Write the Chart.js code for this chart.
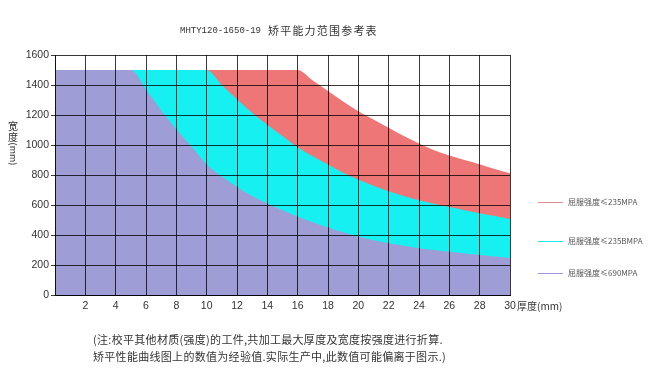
<!DOCTYPE html>
<html>
<head>
<meta charset="utf-8">
<script src="https://cdn.jsdelivr.net/npm/chart.js@4.4.1/dist/chart.umd.min.js"></script>
<style>
html,body{margin:0;padding:0;background:#fff;}
#wrap{width:660px;height:386px;position:relative;}
</style>
</head>
<body>
<div id="wrap"><canvas id="c" width="660" height="386"></canvas></div>
<script>
// ---- data ----
const titleLatin = 'MHTY120-1650-19';
const titleCjk = '矫平能力范围参考表';
const seriesNames = ['屈服强度≤235MPA', '屈服强度≤235BMPA', '屈服强度≤690MPA'];
const xTicks = [0, 2, 4, 6, 8, 10, 12, 14, 16, 18, 20, 22, 24, 26, 28, 30];
const yTicks = [0, 200, 400, 600, 800, 1000, 1200, 1400, 1600];

const redX  = [0, 16, 17, 18, 19, 20, 21, 22, 23, 24, 25, 26, 27, 28, 29, 30];
const redY  = [1500, 1500, 1430, 1360, 1290, 1225, 1170, 1115, 1060, 1010, 965, 930, 900, 872, 840, 812];
const cyanX = [0, 10, 11, 12, 13, 14, 15, 16, 17, 18, 19, 20, 21, 22, 23, 24, 25, 26, 27, 28, 29, 30];
const cyanY = [1500, 1500, 1400, 1305, 1215, 1135, 1060, 985, 925, 870, 815, 770, 728, 692, 660, 632, 608, 586, 565, 545, 526, 507];
const blueX = [0, 5, 6, 7, 8, 9, 10, 11, 12, 13, 14, 15, 16, 17, 18, 19, 20, 21, 22, 23, 24, 25, 26, 27, 28, 29, 30];
const blueY = [1500, 1500, 1370, 1230, 1105, 990, 870, 790, 720, 660, 610, 565, 522, 485, 450, 418, 390, 365, 345, 328, 312, 300, 288, 277, 266, 256, 247];

const noteLines = [
  '(注:校平其他材质(强度)的工件,共加工最大厚度及宽度按强度进行折算.',
  '矫平性能曲线图上的数值为经验值.实际生产中,此数值可能偏离于图示.)'
];

const pts = (xs, ys) => xs.map((x, i) => ({x: x, y: ys[i]}));

const fillColors = ['#ef7676', '#16f0f0', '#9f9dd6'];
const legendColors = ['#e0908f', '#1fe6e6', '#9d94dc'];

const decor = {
  id: 'decor',
  afterDraw(chart) {
    const ctx = chart.ctx;
    const xs = chart.scales.x;
    ctx.save();
    ctx.fillStyle = '#333';
    ctx.textBaseline = 'middle';
    // title
    ctx.textAlign = 'left';
    ctx.font = "9px 'Liberation Mono'";
    ctx.fillText(titleLatin, 180, 31);
    ctx.font = "11px 'Noto Sans CJK SC'";
    ctx.letterSpacing = '1.2px';
    ctx.fillText(titleCjk, 268, 31);
    ctx.letterSpacing = '0px';
    // y title: stacked characters then rotated (mm)
    ctx.textAlign = 'center';
    ctx.font = "10px 'Noto Sans CJK SC'";
    ctx.fillText('宽', 13, 126);
    ctx.fillText('度', 13, 137);
    ctx.save();
    ctx.translate(13, 154);
    ctx.rotate(Math.PI / 2);
    ctx.font = "9px 'Noto Sans CJK SC'";
    ctx.fillText('(mm)', 0, 0);
    ctx.restore();
    // x title
    ctx.textAlign = 'left';
    ctx.font = "10px 'Noto Sans CJK SC'";
    ctx.fillText('厚度(mm)', xs.right + 7, 306);
    // legend
    const ly = [202, 241, 273];
    ctx.font = "8px 'Noto Sans CJK SC'";
    seriesNames.forEach((n, i) => {
      ctx.strokeStyle = legendColors[i];
      ctx.lineWidth = 1;
      ctx.beginPath();
      ctx.moveTo(538, ly[i] + 0.5);
      ctx.lineTo(563, ly[i] + 0.5);
      ctx.stroke();
      ctx.fillStyle = '#555';
      ctx.fillText(n, 568, ly[i]);
    });
    // notes
    ctx.fillStyle = '#333';
    ctx.font = "11px 'Noto Sans CJK SC'";
    ctx.letterSpacing = '0.3px';
    ctx.fillText(noteLines[0], 93, 340);
    ctx.fillText(noteLines[1], 93, 357);
    ctx.restore();
  }
};

new Chart(document.getElementById('c'), {
  type: 'line',
  data: {
    datasets: [
      {label: seriesNames[2], data: pts(blueX, blueY), backgroundColor: fillColors[2], borderColor: fillColors[2], borderWidth: 0, fill: 'origin', pointRadius: 0, cubicInterpolationMode: 'monotone'},
      {label: seriesNames[1], data: pts(cyanX, cyanY), backgroundColor: fillColors[1], borderColor: fillColors[1], borderWidth: 0, fill: 'origin', pointRadius: 0, cubicInterpolationMode: 'monotone'},
      {label: seriesNames[0], data: pts(redX, redY), backgroundColor: fillColors[0], borderColor: fillColors[0], borderWidth: 0, fill: 'origin', pointRadius: 0, cubicInterpolationMode: 'monotone'}
    ]
  },
  options: {
    responsive: false,
    animation: false,
    devicePixelRatio: 1,
    layout: {padding: {left: 0, top: 55, right: 150, bottom: 71}},
    plugins: {legend: {display: false}, tooltip: {enabled: false}},
    scales: {
      x: {
        type: 'linear', min: 0, max: 30,
        afterBuildTicks: s => { s.ticks = xTicks.map(v => ({value: v})); },
        afterFit: s => { s.height = 20; },
        ticks: {callback: v => v === 0 ? '' : String(v), color: '#333', font: {family: "'Liberation Sans', Arial", size: 10.5}, padding: 5, maxRotation: 0, autoSkip: false},
        grid: {color: 'rgba(0,0,0,0.78)', lineWidth: 1, drawTicks: false, z: 1},
        border: {color: '#111', width: 1, z: 1}
      },
      y: {
        type: 'linear', min: 0, max: 1600,
        afterBuildTicks: s => { s.ticks = yTicks.map(v => ({value: v})); },
        afterFit: s => { s.width = 55; },
        ticks: {callback: v => String(v), color: '#333', font: {family: "'Liberation Sans', Arial", size: 10.5}, padding: 2},
        grid: {color: 'rgba(0,0,0,0.78)', lineWidth: 1, drawTicks: true, tickLength: 4, z: 1},
        border: {color: '#111', width: 1, z: 1}
      }
    }
  },
  plugins: [decor]
});
</script>
</body>
</html>
